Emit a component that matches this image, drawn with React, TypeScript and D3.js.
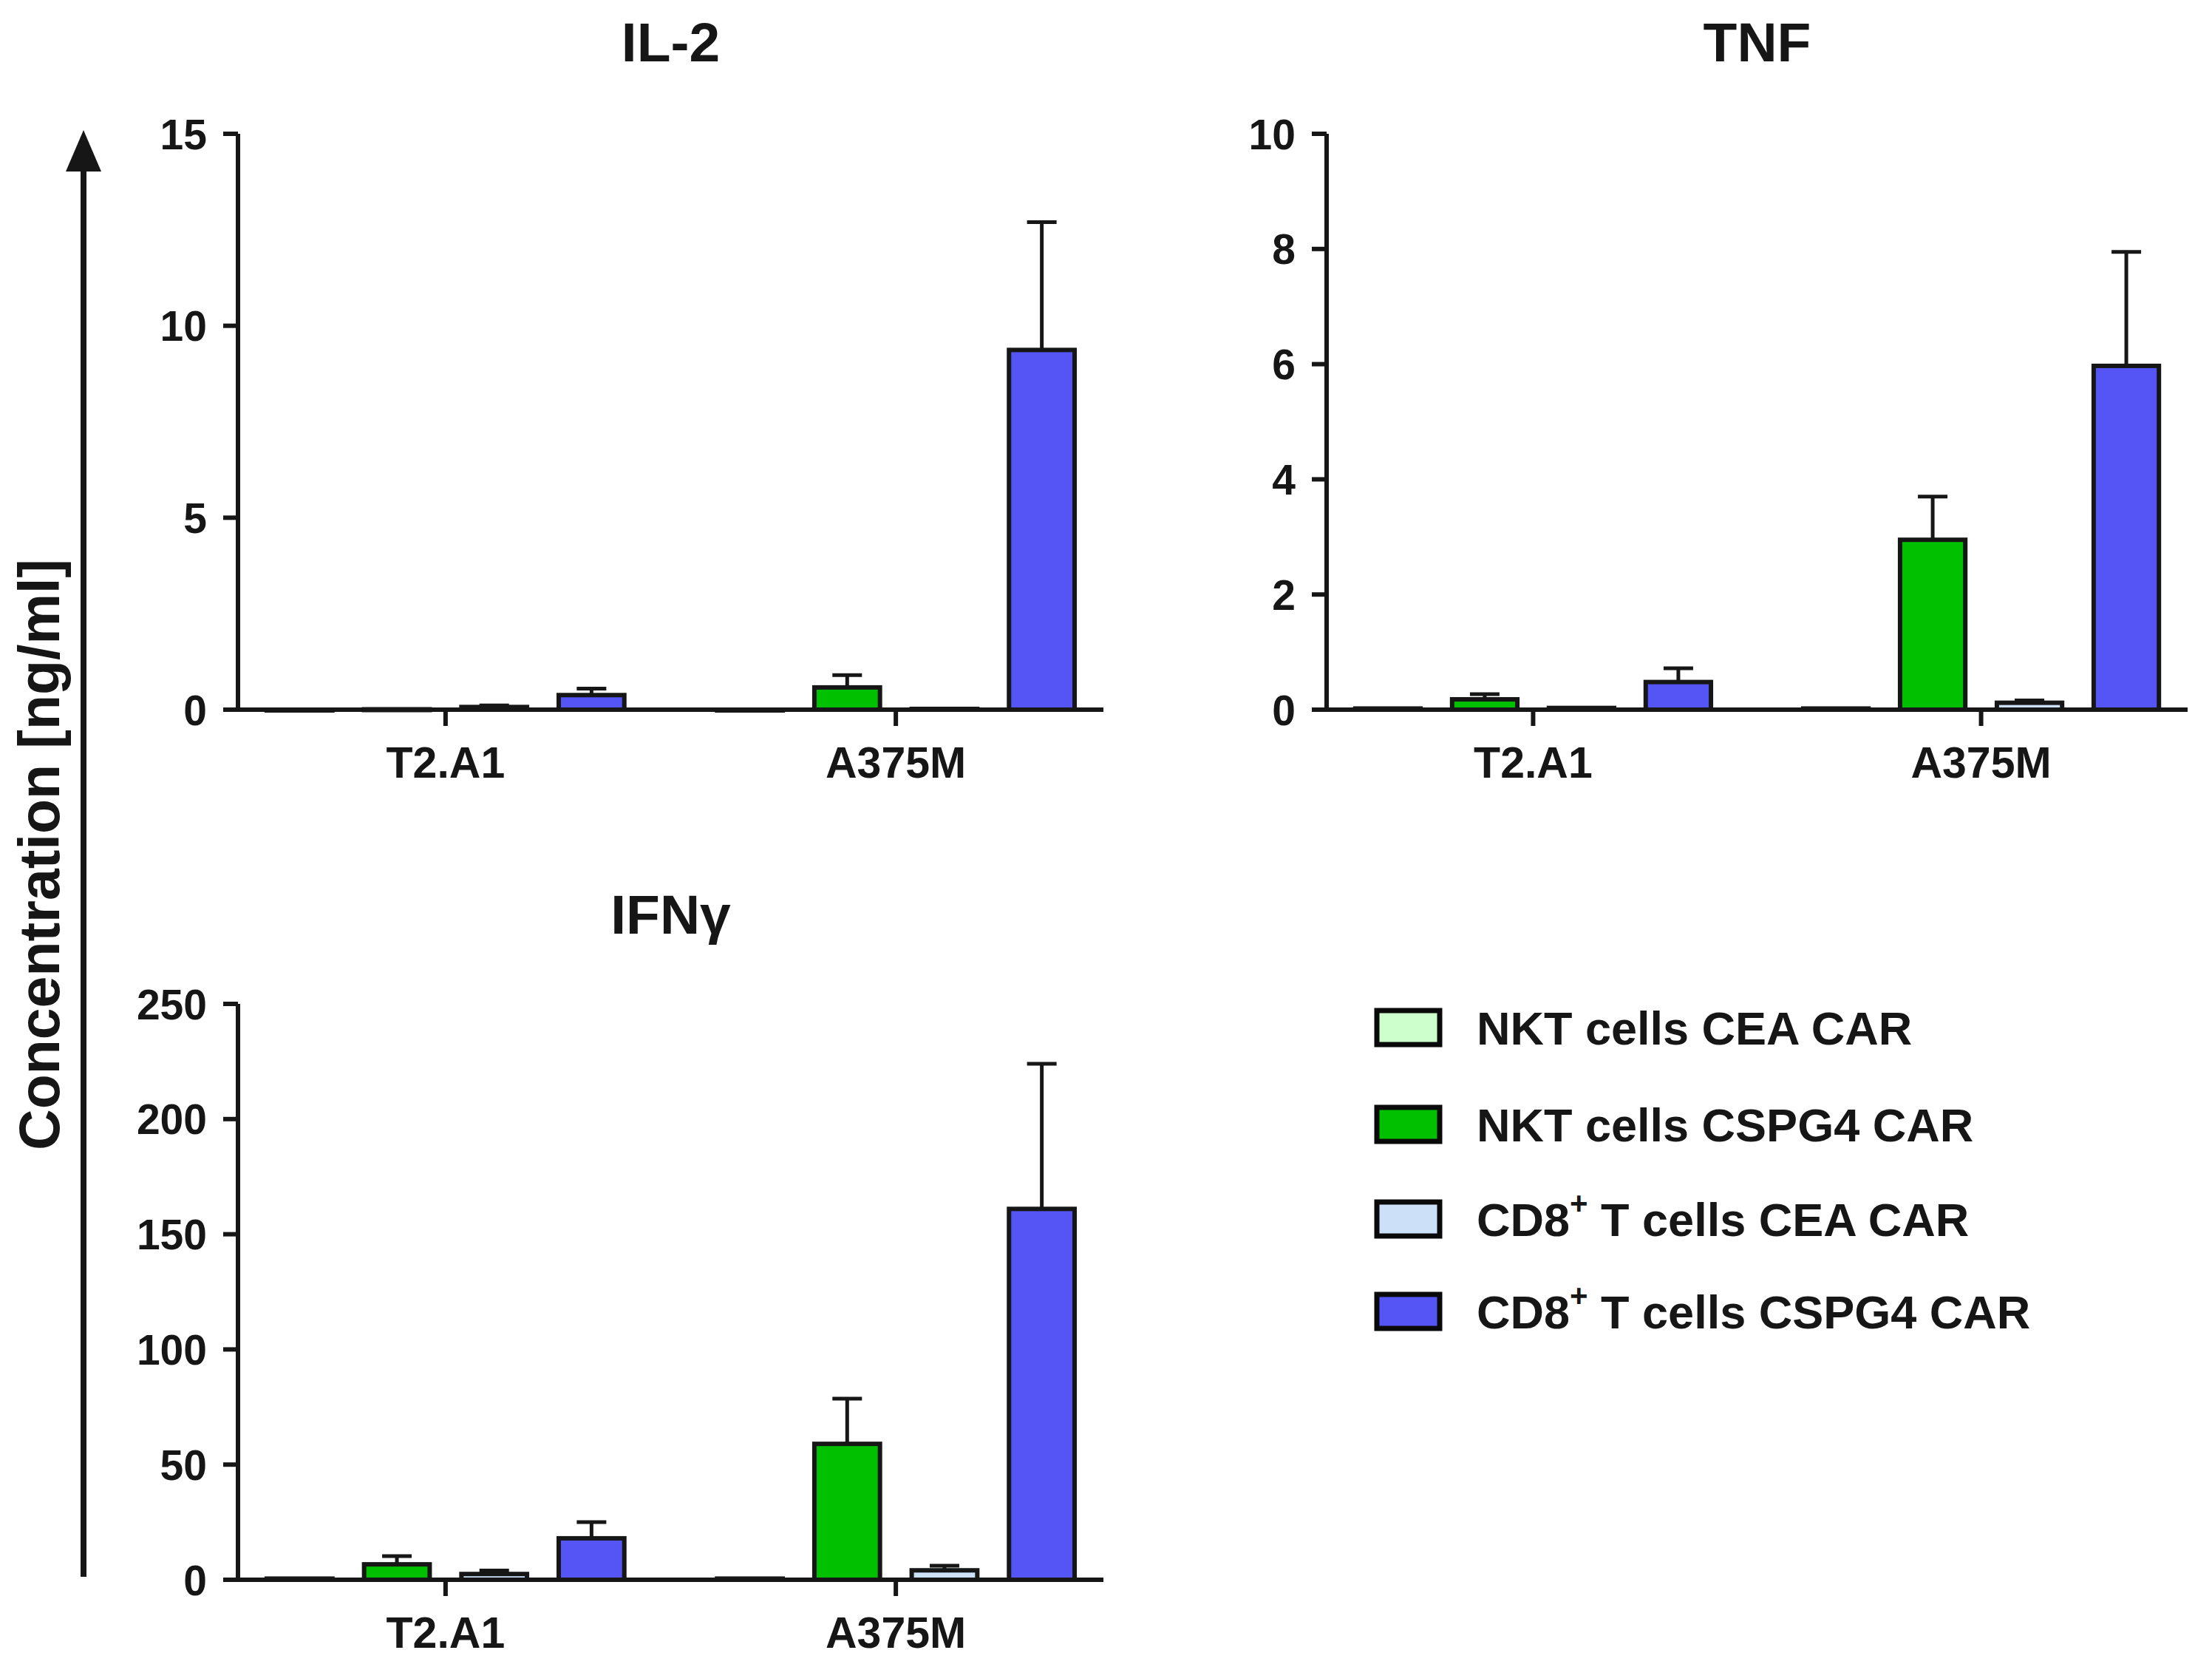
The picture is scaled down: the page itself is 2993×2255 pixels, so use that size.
import { useEffect } from 'react';
import * as d3 from 'd3';

const WIDTH = 2993;
const HEIGHT = 2255;
const FONT = '"Liberation Sans", Arial, Helvetica, sans-serif';
const INK = '#161616';

const categories = ['T2.A1', 'A375M'];
const seriesLabels = ['NKT cells CEA CAR', 'NKT cells CSPG4 CAR', 'CD8+ T cells CEA CAR', 'CD8+ T cells CSPG4 CAR'];
const seriesColors = ['#ccffcc', '#00c000', '#cce0f8', '#5555f6'];

// values per category (rows) and series (columns), ng/ml
const il2Means = [[0, 0.01, 0.07, 0.38], [0, 0.58, 0.02, 9.37]];
const il2Errors = [[0, 0, 0.04, 0.17], [0, 0.32, 0, 3.33]];
const il2Ticks = [0, 5, 10, 15];

const tnfMeans = [[0.02, 0.18, 0.03, 0.48], [0.02, 2.95, 0.12, 5.97]];
const tnfErrors = [[0, 0.09, 0, 0.24], [0, 0.75, 0.04, 1.98]];
const tnfTicks = [0, 2, 4, 6, 8, 10];

const ifngMeans = [[0.5, 6.7, 2.5, 18], [0.5, 59, 4.1, 161]];
const ifngErrors = [[0, 3.6, 1.5, 7], [0, 19.6, 2, 63]];
const ifngTicks = [0, 50, 100, 150, 200, 250];

interface PanelProps {
  title: string;
  means: number[][];
  errors: number[][];
  ticks: number[];
  left: number;
  right: number;
  top: number;
  bottom: number;
  titleY: number;
}

function Panel({ title, means, errors, ticks, left, right, top, bottom, titleY }: PanelProps) {
  const y = d3.scaleLinear().domain([0, ticks[ticks.length - 1]]).range([bottom, top]);
  const x0 = d3.scaleBand().domain(categories).range([left, right]).paddingInner(0.206).paddingOuter(0.064);
  const x1 = d3
    .scaleBand()
    .domain(seriesLabels)
    .range([0, x0.bandwidth()])
    .paddingInner(0.326)
    .paddingOuter(0);
  const bw = x1.bandwidth();
  const capHalf = 20;

  return (
    <g>
      <text x={(left + right) / 2} y={titleY} textAnchor="middle" fontSize={75} fontWeight="bold" fill={INK}>
        {title}
      </text>

      {categories.map((cat, ci) =>
        seriesLabels.map((s, si) => {
          const v = means[ci][si];
          const e = errors[ci][si];
          const bx = (x0(cat) ?? 0) + (x1(s) ?? 0);
          const cx = bx + bw / 2;
          return (
            <g key={cat + s}>
              {e > 0 && (
                <g stroke={INK} strokeWidth={5}>
                  <line x1={cx} x2={cx} y1={y(v)} y2={y(v + e)} />
                  <line x1={cx - capHalf} x2={cx + capHalf} y1={y(v + e)} y2={y(v + e)} />
                </g>
              )}
              <rect
                x={bx}
                y={y(v)}
                width={bw}
                height={Math.max(bottom - y(v), 1)}
                fill={seriesColors[si]}
                stroke={INK}
                strokeWidth={6}
              />
            </g>
          );
        })
      )}

      {/* y axis */}
      <line x1={left} x2={left} y1={top} y2={bottom} stroke={INK} strokeWidth={6} />
      {ticks.map((t) => (
        <g key={t}>
          <line x1={left - 20} x2={left} y1={y(t)} y2={y(t)} stroke={INK} strokeWidth={6} />
          <text x={left - 42} y={y(t)} dy="0.36em" textAnchor="end" fontSize={57} fontWeight="bold" fill={INK}>
            {t}
          </text>
        </g>
      ))}

      {/* x axis */}
      <line x1={left - 20} x2={right} y1={bottom} y2={bottom} stroke={INK} strokeWidth={6} />
      {categories.map((cat) => {
        const cx = (x0(cat) ?? 0) + x0.bandwidth() / 2;
        return (
          <g key={cat}>
            <line x1={cx} x2={cx} y1={bottom} y2={bottom + 22} stroke={INK} strokeWidth={6} />
            <text x={cx} y={bottom + 92} textAnchor="middle" fontSize={59} fontWeight="bold" fill={INK}>
              {cat}
            </text>
          </g>
        );
      })}
    </g>
  );
}

function LegendLabel({ label }: { label: string }) {
  if (label.startsWith('CD8+')) {
    return (
      <>
        <tspan>CD8</tspan>
        <tspan dy={-30} fontSize={42}>+</tspan>
        <tspan dy={30}>{label.slice(4)}</tspan>
      </>
    );
  }
  return <tspan>{label}</tspan>;
}

export default function App() {
  useEffect(() => {
    document.body.style.margin = '0';
    document.body.style.overflow = 'hidden';
  }, []);

  const legendY = [1390, 1521, 1649, 1774];

  return (
    <svg
      width={WIDTH}
      height={HEIGHT}
      viewBox={`0 0 ${WIDTH} ${HEIGHT}`}
      style={{ display: 'block', background: '#fff' }}
      fontFamily={FONT}
    >
      <rect width={WIDTH} height={HEIGHT} fill="#fff" />

      {/* shared y label with arrow */}
      <line x1={113} x2={113} y1={2133} y2={220} stroke={INK} strokeWidth={8} />
      <polygon points="113,176 89,232 137,232" fill={INK} />
      <text
        transform="translate(80,1156) rotate(-90)"
        textAnchor="middle"
        fontSize={77}
        fontWeight="bold"
        fill={INK}
      >
        Concentration [ng/ml]
      </text>

      <Panel title="IL-2" means={il2Means} errors={il2Errors} ticks={il2Ticks}
        left={322} right={1493} top={181} bottom={960} titleY={83} />
      <Panel title="TNF" means={tnfMeans} errors={tnfErrors} ticks={tnfTicks}
        left={1795} right={2960} top={181} bottom={960} titleY={83} />
      <Panel title="IFNγ" means={ifngMeans} errors={ifngErrors} ticks={ifngTicks}
        left={322} right={1493} top={1358} bottom={2137} titleY={1263} />

      {/* legend */}
      {seriesLabels.map((s, i) => (
        <g key={s}>
          <rect x={1863} y={legendY[i] - 23} width={85} height={46} fill={seriesColors[i]} stroke="#0a0a0a" strokeWidth={7} />
          <text x={1998} y={legendY[i] + 23} fontSize={63} fontWeight="bold" fill={INK}>
            <LegendLabel label={s} />
          </text>
        </g>
      ))}
    </svg>
  );
}
